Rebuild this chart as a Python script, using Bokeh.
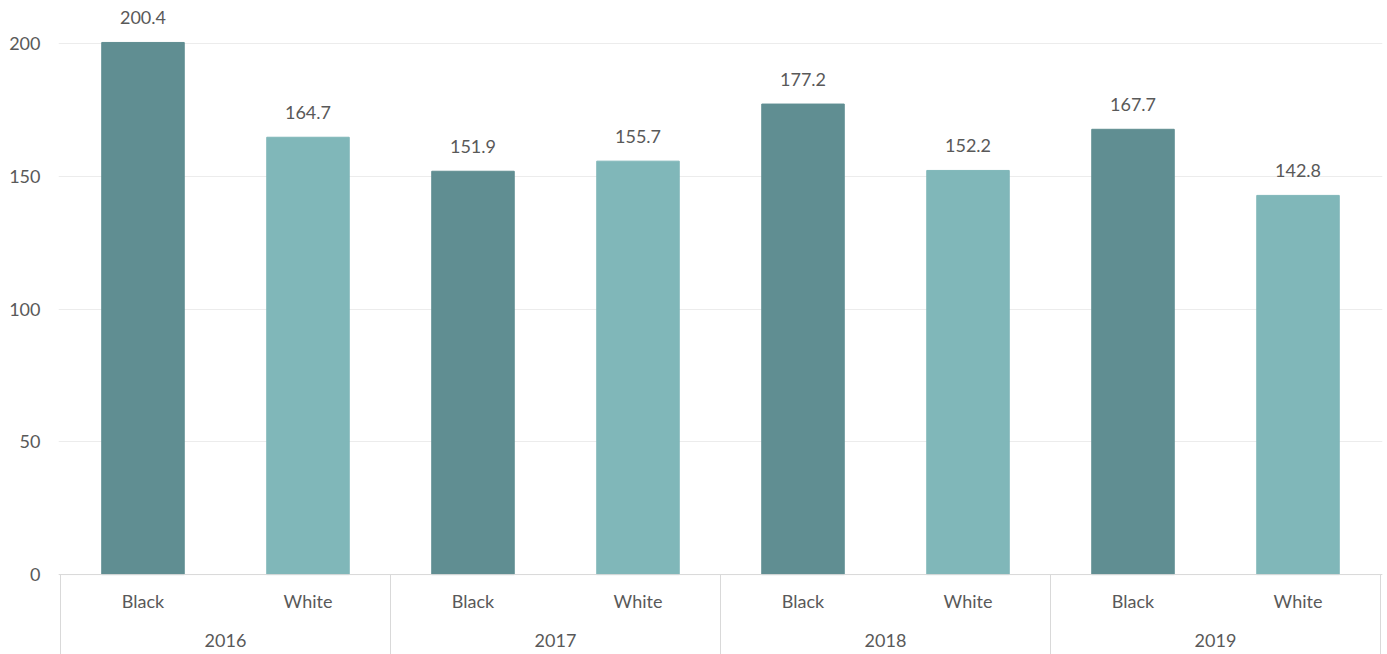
from bokeh.plotting import figure
from bokeh.models import ColumnDataSource, Range1d, FixedTicker, Span
from bokeh.core.properties import value
from bokeh.embed import file_html
from bokeh.resources import INLINE

years = ["2016", "2017", "2018", "2019"]
races = ["Black", "White"]
black_values = [200.4, 151.9, 177.2, 167.7]
white_values = [164.7, 155.7, 152.2, 142.8]
y_ticks = [0, 50, 100, 150, 200]

race_colors = {"Black": "#608e92", "White": "#80b7b9"}
FONT = "Lato"
TXT = "#595959"
FS = "18px"

n_slots = len(years) * len(races)

# bar table built from the data lists
xs, vals, cols, labs, race_lab = [], [], [], [], []
for i, yr in enumerate(years):
    for j, race in enumerate(races):
        v = black_values[i] if race == "Black" else white_values[i]
        xs.append(i * len(races) + j + 0.5)
        vals.append(v)
        cols.append(race_colors[race])
        labs.append(f"{v:.1f}")
        race_lab.append(race)

bars = ColumnDataSource(dict(x=xs, top=vals, color=cols, label=labs, race=race_lab))
groups = ColumnDataSource(dict(x=[i * len(races) + len(races) / 2 for i in range(len(years))],
                               year=years))
seps = ColumnDataSource(dict(x=[i * len(races) for i in range(len(years) + 1)]))

pad = 0.0121
p = figure(width=1387, height=654, output_backend="svg", toolbar_location=None,
           x_range=Range1d(-pad, n_slots + pad), y_range=Range1d(-30.1, 216.2),
           min_border_left=58, min_border_right=5, min_border_top=0, min_border_bottom=0)
p.outline_line_color = None
p.xaxis.visible = False
p.xgrid.visible = False

p.yaxis.ticker = FixedTicker(ticks=y_ticks)
p.yaxis.axis_line_color = None
p.yaxis.major_tick_line_color = None
p.yaxis.minor_tick_line_color = None
p.yaxis.major_tick_out = 0
p.yaxis.major_label_standoff = 18
p.yaxis.major_label_text_font = FONT
p.yaxis.major_label_text_font_size = FS
p.yaxis.major_label_text_color = TXT
p.ygrid.ticker = FixedTicker(ticks=y_ticks)
p.ygrid.grid_line_color = "#ececec"
p.ygrid.grid_line_width = 1

p.vbar(x="x", top="top", bottom=0, width=0.5, color="color", source=bars)

# axis base line and group separators
p.add_layout(Span(location=0, dimension="width", line_color="#d9d9d9", line_width=1))
p.segment(x0="x", x1="x", y0=0, y1=-30.1, line_color="#d9d9d9", line_width=1, source=seps)

# value labels
p.text(x="x", y="top", text="label", source=bars, text_align="center",
       text_baseline="alphabetic", y_offset=-25, text_font=value(FONT),
       text_font_size=FS, text_color=TXT)
# subgroup labels
p.text(x="x", y=0, text="race", source=bars, text_align="center",
       text_baseline="alphabetic", y_offset=26, text_font=value(FONT),
       text_font_size=FS, text_color=TXT)
# group labels
p.text(x="x", y=0, text="year", source=groups, text_align="center",
       text_baseline="alphabetic", y_offset=66, text_font=value(FONT),
       text_font_size=FS, text_color=TXT)

open("out.html", "w").write(file_html(p, INLINE))
